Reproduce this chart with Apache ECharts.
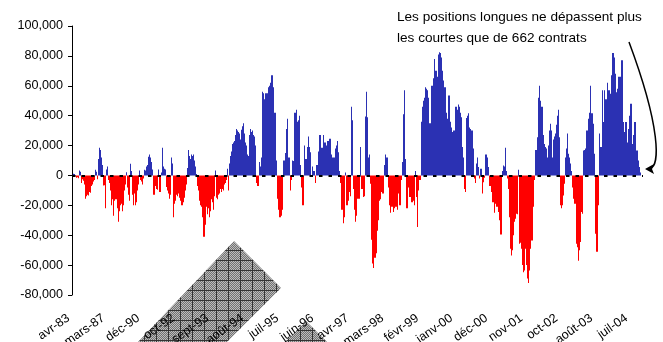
<!DOCTYPE html>
<html>
<head>
<meta charset="utf-8">
<script src="https://cdn.jsdelivr.net/npm/echarts@6/dist/echarts.min.js"></script>
<style>
  html, body { margin: 0; padding: 0; background: #fff; }
  #chart { width: 663px; height: 342px; }
</style>
</head>
<body>
<div id="chart"></div>
<script>
// positions nettes (milliers de contrats), une barre par période
var netPositions = [
  1.0, 1.1, 1.0, -0.5, -1.5, -1.2, -1.8, 3.3, 2.5, -5,
  -2.5, -3.5, -6, -15.6, -14, -13, -13.5, -11, -11.5, -7,
  -6, -4, -3, 3.8, 2.5, -2.5, 11, 18.5, 17, 12,
  7, -6.7, -6.5, -22, 4, 6, -3, -5, -10, -20,
  -16, -27, -17, -16, -16, -22, -31, -24, -20, -19,
  -24, -20, -10, -6, 2.2, -8, -13, -17, 7.8, 3,
  -13, -20, -12, -20, -18, -10, -6, 3.3, -3, -4,
  -6, -2, 3.8, 3.3, 6, 7, 12.5, 14, 12, 9,
  4, -13, -13, -7, -9, -9.5, 4, -11, -11, 2,
  18.5, 6, 4.5, 4,
  -7.8, -10, -12, -15.6, -13, 12, 8, -28, -19, -17,
  -13, -14, -12, -15, -17, -20, -20, -18, -15, -10,
  -6, 5, 17, 13, 11, 14, 13, 14, 10, 6,
  1, -7, -10, -17, -20, -21, -28, -41, -41, -33,
  -21, -26, -22, -28, -24, -16, -18, -23, -14, 3.3,
  -15, -16, -13, -12, -9, -11, -9, -10, -6, -5,
  -3, 4.5, -10, 8, 13, 16, 21, 22, 23, 27,
  31, 30, 29, 28, 24, 30.5, 33, 35, 28, 22,
  20, 14, 13, 27, 31, 29, 30, 27, 26, 20,
  -5, -7, -7, 9, 6,
  12, 56, 55, 51, 55, 55, 55, 59, 60, 62,
  67, 67, 59, 42, 42, 10, -15.6, -23, -28, -28,
  -27, -23, 10, 10, 15, 31, 38, 12, 12, -10,
  -3, 10, 9.6, 42, 42, 44, 36, 37, 40, 7,
  -8, -20, -20, 20, 11, 11, 19, 26, 19, 15.6,
  -1, 6, 3, 3, -5, 7, 7, 16, 27, 27,
  18.5, 18.5, 27, 22, 22, 20, 23, 23, 24.5, 24.5,
  14, 12, 12, 12, 18, 20, 23, 15.6, 3, -5,
  -23, -23, -32, -28, 2, -20, -20, -17, -11, -14,
  46, 37, -9, -23, -31,
  -27, -15.6, -15.6, -15.6, 19, -9, -9, -14.5, -14, 39.5,
  56, 39, 12, 14, -5.6, -43, -59, -62, -55, -55,
  -52, -37, -30, -17, -16, -11, -12, -12, 7, 14,
  12, 12, -8, -20, -25, -21, -21, -24.5, -22, -21,
  -21, -23, -12, -20, -20, -3, 9, 41, 57, 11,
  -22, -22, -8, -14.5, -14.5, -18, -18, -17, -20, 3,
  -14.5, -34.5, -10, -3, -3, 36, 46, 50, 52, 59,
  58, 57, 52, 35, 35, 60, 60, 65, 78, 70,
  70, 66, 81, 82.5, 82, 79, 70, 63.5, 59, 59,
  42, 38, 53.5, 53.5, 36,
  32, 29, 30, 30, 46, 46, 44, 47.5, 46, 42,
  39, 19, 12, -9, -11, 38.5, 40, 41.7, 32, 31,
  30, 30, 18, -2, -5, 8, 12, 5.6, -2, 4.5,
  4.5, -12, -4.5, -1.5, 14, 14, 12, 5.6, -7, -7,
  -11, -18, -18, -25, -19, -21, -21, -24.5, -30, -39.5,
  -39.5, 3, 6.7, 6, 18.5, 3, -2, -9, -28, -49,
  -53.5, -50, -40, -31, -29, -25.6, -26, 3.8, -45.7, -45,
  -49, -60, -64.7, -63.6, -49, -60, -69, -72, -63.6, -49,
  -43.5, -43.5, -21, -3, 17, 17, 25.6, 52, 60, 50,
  46, 46, 27, 21, 19,
  18, 12, 20, 30, 34.6, 30, 12, 24, 26, 28,
  34, 40, 44, 25.6, -20, -22, -20, -13.4, -5.6, 12,
  18, 28, 14.5, 12, 8, 3, -8, -15.6, -19, -19,
  -45.7, -48, -57, -50, -44.6, -24.5, -25.6, 16.7, 17, 18,
  30, 30, 38, 42, 60, 41.7, 41.7, 34.6, 14.5, -39,
  -51, -51, -20, 28, 19, 19, 57, 35.7, 57, 51,
  51, 62, 57, 57, 54.6, 67, 82, 82, 79, 68,
  55.7, 58, 66, 66, 66, 77, 77, 35.7, 29, 35.7,
  35.7, 22, 31, 40, 48, 48, 21, 27, 35.7, 35.7,
  16.7, 16.7, 10, 5.6, 2,
  null, null
];
var tickLabels = ['avr-83', 'mars-87', 'déc-90', 'oct-92', 'sept-93', 'août-94', 'juil-95',
  'juin-96', 'avr-97', 'mars-98', 'févr-99', 'janv-00', 'déc-00', 'nov-01', 'oct-02',
  'août-03', 'juil-04'];
var labelStep = 34.85; // périodes entre deux étiquettes
var noteLines = ['Les positions longues ne dépassent plus', 'les courtes que de 662 contrats'];

var categories = netPositions.map(function (v, i) { return String(i); });
var labelAt = {};
tickLabels.forEach(function (t, k) { labelAt[Math.round(k * labelStep)] = t; });

// motif gris quadrillé
function hatch() {
  var c = document.createElement('canvas');
  c.width = 12; c.height = 10;
  var g = c.getContext('2d');
  for (var y = 0; y < 10; y++) {
    for (var x = 0; x < 12; x++) {
      g.fillStyle = (x + y) % 2 ? '#727272' : '#bcbcbc';
      g.fillRect(x, y, 1, 1);
    }
  }
  g.fillStyle = '#333';
  g.fillRect(0, 0, 12, 1);
  g.fillRect(0, 0, 1, 10);
  return c;
}
var pat = { image: hatch(), repeat: 'repeat' };

var myChart = echarts.init(document.getElementById('chart'));
var font = 'Liberation Sans, Arial, sans-serif';
var option = {
  animation: false,
  grid: { left: 72, top: 26, width: 571, height: 269, outerBoundsMode: 'none', containLabel: false },
  xAxis: {
    type: 'category',
    data: categories,
    z: 5,
    axisLine: { show: false, onZero: false },
    axisTick: { show: false },
    axisLabel: {
      interval: function (i) { return labelAt[i] !== undefined; },
      formatter: function (v, i) { return labelAt[i] || ''; },
      rotate: 35,
      margin: 19,
      padding: [0, 5, 0, 0],
      color: '#000',
      fontSize: 12.5,
      fontFamily: font
    }
  },
  yAxis: {
    type: 'value',
    min: -80, max: 100, interval: 20,
    z: 5,
    axisLine: { show: true, lineStyle: { color: '#000', width: 1 } },
    axisTick: { show: true, length: 4, lineStyle: { color: '#000' } },
    splitLine: { show: false },
    axisLabel: {
      margin: 9,
      color: '#000',
      fontSize: 12.6,
      fontFamily: font,
      formatter: function (v) { return (v * 1000).toLocaleString('en-US'); }
    }
  },
  series: [{
    type: 'bar',
    data: netPositions,
    barCategoryGap: '0%',
    itemStyle: {
      color: function (p) { return p.value < 0 ? '#ff0000' : '#2b31b3'; }
    },
    markLine: {
      silent: true,
      symbol: 'none',
      z: 10,
      label: { show: false },
      lineStyle: { color: '#000', type: [3.5, 6], width: 2 },
      data: [{ yAxis: 0 }]
    }
  }],
  graphic: [
    { type: 'polygon', z: 0, shape: { points: [[138, 342], [234, 241], [281, 288], [227, 342]] },
      style: { fill: pat } },
    { type: 'polygon', z: 0, shape: { points: [[285, 342], [306, 321], [327, 342]] },
      style: { fill: pat } },
    { type: 'text', left: 397, top: 7, z: 20,
      style: { text: noteLines.join('\n'), font: '13.6px ' + font, fill: '#000', lineHeight: 21 } },
    { type: 'bezierCurve', z: 20,
      shape: { x1: 629, y1: 42, cpx1: 661, cpy1: 128, cpx2: 660, cpy2: 166, x2: 650, y2: 168.5 },
      style: { stroke: '#000', lineWidth: 1.5, fill: null } },
    { type: 'polygon', z: 20, shape: { points: [[645, 169], [654, 164], [652, 169], [654, 174]] },
      style: { fill: '#000' } }
  ]
};
myChart.setOption(option);
</script>
</body>
</html>
